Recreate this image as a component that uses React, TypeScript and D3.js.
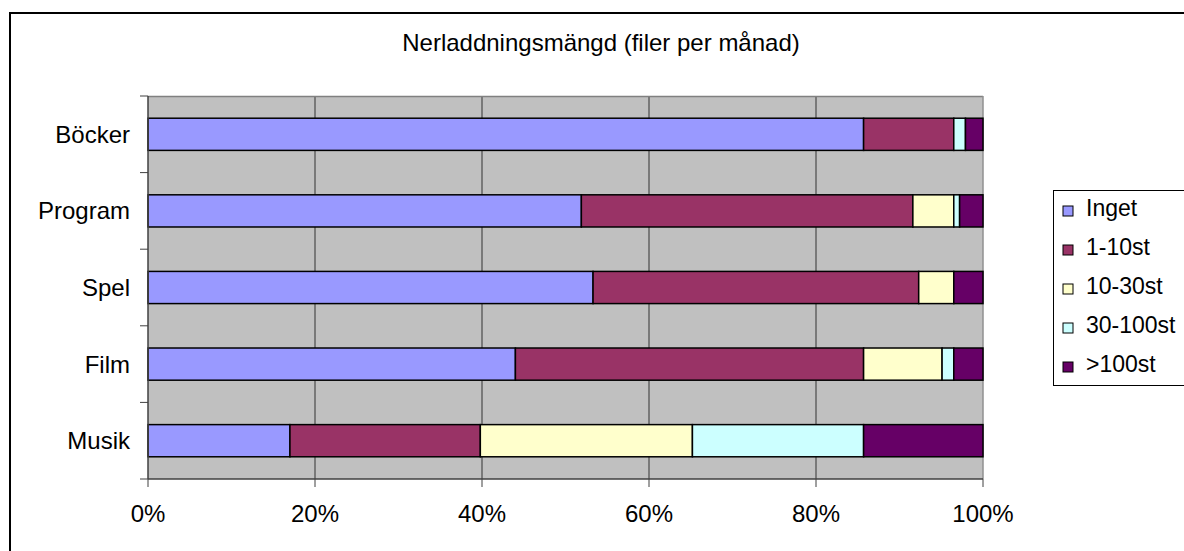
import React from 'react';
import * as d3 from 'd3';

const categories = ['Böcker', 'Program', 'Spel', 'Film', 'Musik'];
const seriesNames = ['Inget', '1-10st', '10-30st', '30-100st', '>100st'];
const colors = ['#9999FF', '#993366', '#FFFFCC', '#CCFFFF', '#660066'];

// percent per category, order follows seriesNames
const inget = [85.7, 51.9, 53.3, 44.0, 17.0];
const st1to10 = [10.8, 39.7, 39.0, 41.7, 22.8];
const st10to30 = [0, 4.9, 4.2, 9.4, 25.4];
const st30to100 = [1.4, 0.7, 0, 1.4, 20.5];
const over100 = [2.1, 2.8, 3.5, 3.5, 14.3];

const xTicks = [0, 20, 40, 60, 80, 100];
const title = 'Nerladdningsmängd (filer per månad)';

export default function App() {
  const width = 1184;
  const height = 551;
  const margin = { top: 96, right: 201, bottom: 72, left: 148 };
  const font = 'Liberation Sans, Arial, sans-serif';

  const x = d3.scaleLinear()
    .domain([0, 100])
    .range([margin.left, width - margin.right]);

  const y = d3.scaleBand()
    .domain(categories)
    .range([margin.top, height - margin.bottom])
    .paddingInner(0.58)
    .paddingOuter(0.29);

  const rows = categories.map((c, i) => ({
    cat: c,
    'Inget': inget[i],
    '1-10st': st1to10[i],
    '10-30st': st10to30[i],
    '30-100st': st30to100[i],
    '>100st': over100[i],
  }));

  const stacked = d3.stack<any>().keys(seriesNames)(rows);

  const [x0, x1] = x.range();
  const [y0, y1] = y.range();
  const step = y.step();
  const boundaries = d3.range(categories.length + 1).map(i => y0 + i * step);

  return (
    <svg width={width} height={height} style={{ position: 'absolute', left: 0, top: 0, background: '#fff' }}
      fontFamily={font}>
      <rect x={10} y={13} width={1190} height={560} fill="#fff" stroke="#000" strokeWidth={2} />
      <text x={601} y={51} textAnchor="middle" fontSize={24} fill="#000">{title}</text>

      {/* plot area */}
      <rect x={x0} y={y0} width={x1 - x0} height={y1 - y0} fill="#C0C0C0" />
      {xTicks.slice(1, -1).map(t => (
        <line key={t} x1={x(t)} x2={x(t)} y1={y0} y2={y1} stroke="#333" strokeWidth={1} />
      ))}
      <line x1={x0} x2={x1} y1={y0 + 0.5} y2={y0 + 0.5} stroke="#808080" strokeWidth={1.5} />
      <line x1={x1} x2={x1} y1={y0} y2={y1} stroke="#909090" strokeWidth={1.5} />

      {stacked.map((s, si) => (
        <g key={s.key}>
          {s.map((d, i) => (
            d[1] - d[0] > 0 ? (
              <rect key={i}
                x={x(d[0])} y={y(categories[i])!}
                width={x(d[1]) - x(d[0])} height={y.bandwidth()}
                fill={colors[si]} stroke="#000" strokeWidth={1.5} />
            ) : null
          ))}
        </g>
      ))}

      {/* y axis */}
      <line x1={x0} x2={x0} y1={y0} y2={y1} stroke="#404040" strokeWidth={1.5} />
      {boundaries.map((b, i) => (
        <line key={i} x1={x0 - 8} x2={x0} y1={b} y2={b} stroke="#404040" strokeWidth={1} />
      ))}
      {categories.map(c => (
        <text key={c} x={130} y={y(c)! + y.bandwidth() / 2} dy="0.35em" textAnchor="end" fontSize={24} fill="#000">{c}</text>
      ))}

      {/* x axis */}
      <line x1={x0} x2={x1} y1={y1} y2={y1} stroke="#404040" strokeWidth={1.5} />
      {xTicks.map(t => (
        <g key={t}>
          <line x1={x(t)} x2={x(t)} y1={y1} y2={y1 + 8} stroke="#404040" strokeWidth={1} />
          <text x={x(t)} y={522} textAnchor="middle" fontSize={24} fill="#000">{t}%</text>
        </g>
      ))}

      {/* legend */}
      <rect x={1053.5} y={190.5} width={150} height={195} fill="#fff" stroke="#000" strokeWidth={1} />
      {seriesNames.map((n, i) => (
        <g key={n} transform={`translate(1063, ${216 + i * 39})`}>
          <rect x={0} y={-10} width={10} height={10} fill={colors[i]} stroke="#000" strokeWidth={1} />
          <text x={23} y={0} fontSize={23} fill="#000">{n}</text>
        </g>
      ))}
    </svg>
  );
}
